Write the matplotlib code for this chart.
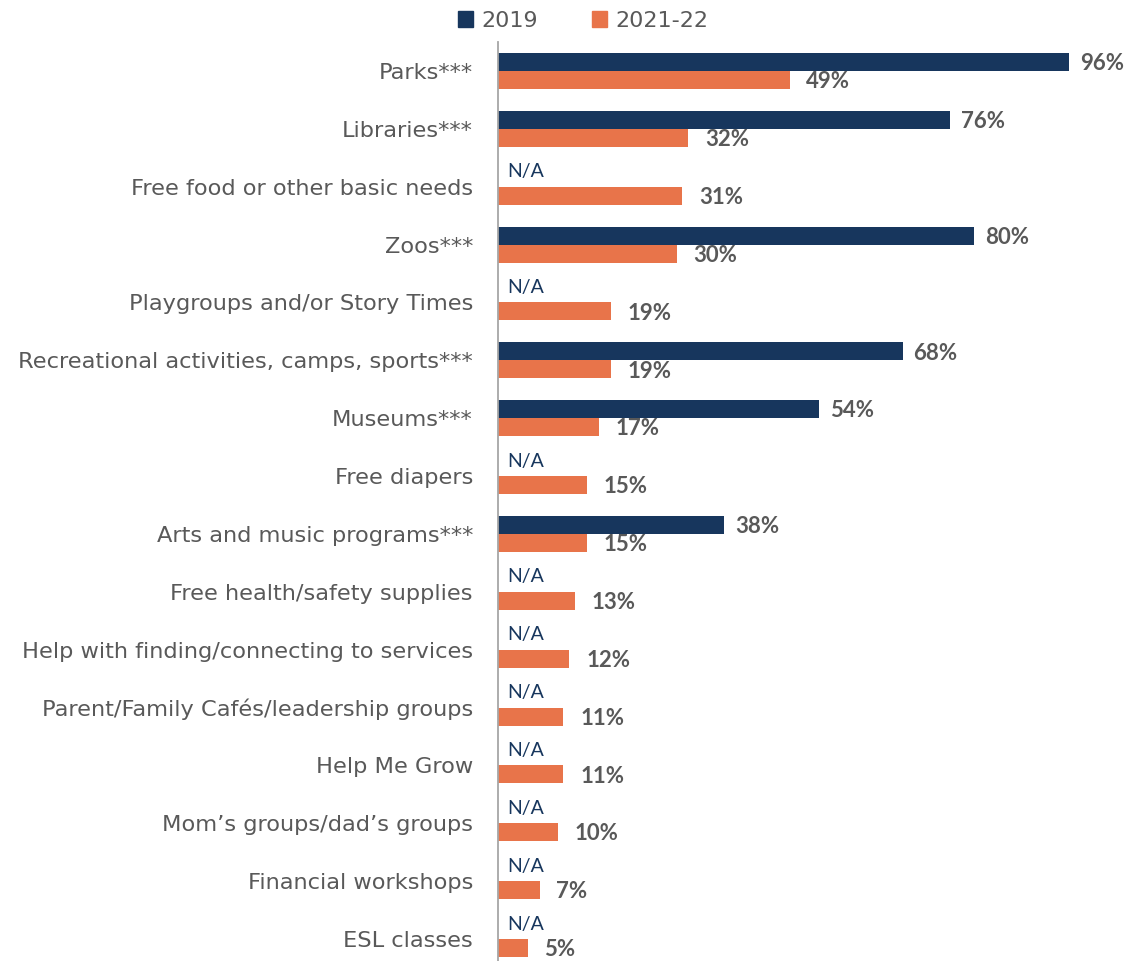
import matplotlib
matplotlib.use("Agg")
import matplotlib.pyplot as plt
from matplotlib.patches import Patch
import numpy as np

categories = [
    "Parks***", "Libraries***", "Free food or other basic needs", "Zoos***",
    "Playgroups and/or Story Times", "Recreational activities, camps, sports***",
    "Museums***", "Free diapers", "Arts and music programs***",
    "Free health/safety supplies", "Help with finding/connecting to services",
    "Parent/Family Cafés/leadership groups", "Help Me Grow",
    "Mom’s groups/dad’s groups", "Financial workshops", "ESL classes",
]
v2019 = [96, 76, None, 80, None, 68, 54, None, 38, None, None, None, None, None, None, None]
v2022 = [49, 32, 31, 30, 19, 19, 17, 15, 15, 13, 12, 11, 11, 10, 7, 5]
series_names = ["2019", "2021-22"]

NAVY = "#17365D"
ORANGE = "#E8744A"
GRAY = "#595959"

fig = plt.figure(figsize=(11.35, 9.61), dpi=100)
ax = fig.add_axes([498/1135, 0, 595/1135, 919/961])

y = np.arange(len(categories))
h = 0.311
for i, (a, b) in enumerate(zip(v2019, v2022)):
    if a is not None:
        ax.barh(y[i] - h/2, a, height=h, color=NAVY)
        ax.text(a + 1.8, y[i] - h/2 + 0.03, f"{a}%", va="center", ha="left",
                fontsize=16, fontweight="bold", color=GRAY, family="Lato")
    else:
        ax.text(1.5, y[i] - h/2 - 0.1, "N/A", va="center", ha="left",
                fontsize=14, color=NAVY, family="Lato")
    ax.barh(y[i] + h/2, b, height=h, color=ORANGE)
    ax.text(b + 2.8, y[i] + h/2 + 0.03, f"{b}%", va="center", ha="left",
            fontsize=16, fontweight="bold", color=GRAY, family="Lato")

ax.set_xlim(0, 100)
ax.set_ylim(15 + (961-939)/57.87, -0.5)
ax.set_yticks(y)
ax.set_yticklabels(categories, fontsize=16.2, color=GRAY, family="DejaVu Sans")
ax.tick_params(axis="y", length=0, pad=18)
ax.set_xticks([])
for s in ["top", "right", "bottom"]:
    ax.spines[s].set_visible(False)
ax.spines["left"].set_color("#A6A6A6")
ax.spines["left"].set_linewidth(1.3)

handles = [Patch(color=NAVY), Patch(color=ORANGE)]
leg = fig.legend(handles, series_names, loc="center", bbox_to_anchor=(583/1135, 1 - 21/961),
                 ncol=2, frameon=False, handlelength=0.7, handleheight=0.7,
                 handletextpad=0.35, columnspacing=2.43,
                 prop={"family": "DejaVu Sans", "size": 16})
for t in leg.get_texts():
    t.set_color(GRAY)

fig.savefig("out.png", dpi=100)
